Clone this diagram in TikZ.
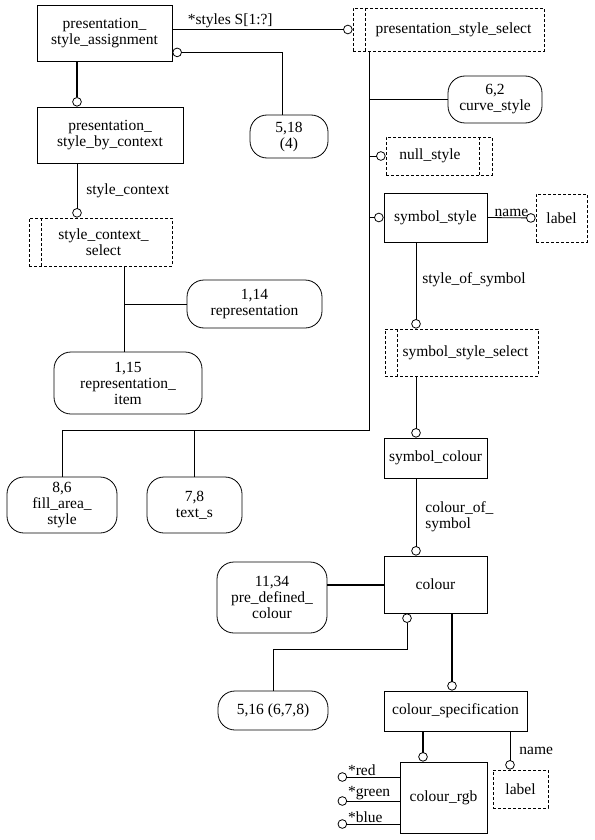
\documentclass[tikz,border=0pt]{standalone}
\usepackage{fontspec}
\setmainfont{Liberation Serif}
\usetikzlibrary{arrows.meta}

\newcommand{\xgfont}{\fontsize{15.5}{16}\selectfont}

\tikzset{
  box/.style 2 args={minimum width=#1pt, minimum height=#2pt, inner sep=1pt, align=center},
  entity/.style={draw},
  pageref/.style={draw, rounded corners=17pt},
  deftype/.style={draw, dash pattern=on 3pt off 2pt},
  selecttype/.style={deftype, path picture={
      \draw[dash pattern=on 3pt off 2pt] ([xshift=12pt]path picture bounding box.north west)
        -- ([xshift=12pt]path picture bounding box.south west);}},
  enumtype/.style={deftype, path picture={
      \draw[dash pattern=on 3pt off 2pt] ([xshift=-13pt]path picture bounding box.north east)
        -- ([xshift=-13pt]path picture bounding box.south east);}},
  ring/.style={-{Circle[open, length=9.5pt, line width=0.8pt]}},
  ringstart/.style={{Circle[open, length=9.5pt, line width=0.8pt]}-},
  heavy/.style={line width=2pt},
  rolename/.style={inner sep=1pt, align=left}
}

\begin{document}
\begin{tikzpicture}[x=1pt, y=-1pt, font=\xgfont, line width=0.8pt]
\useasboundingbox (0,0) rectangle (594,840);

% left column
\node[entity, box={135}{56}] (psa) at (104.5,33) {presentation\_\\style\_assignment};
\node[entity, box={146}{56}] (psbc) at (110,135) {presentation\_\\style\_by\_context};
\node[selecttype, box={143}{48}] (scs) at (100.5,242) {\hspace*{6pt}style\_context\_\\\hspace*{6pt}select};
\node[pageref, box={135}{48}] (ref114) at (254.5,304) {1,14\\representation};
\node[pageref, box={148}{62}] (ref115) at (128,383) {1,15\\representation\_\\item};
\node[pageref, box={78}{43}] (ref518) at (289,136.5) {5,18\\(4)};
\node[pageref, box={110}{56}] (fas) at (62,505) {8,6\\fill\_area\_\\style};
\node[pageref, box={95}{56}] (txt) at (194.5,505) {7,8\\text\_s};

% right column
\node[selecttype, box={191}{43}] (pss) at (448.5,29.5) {\hspace*{10pt}presentation\_style\_select};
\node[pageref, box={94}{47}] (curve) at (495,99.5) {6,2\\curve\_style};
\node[enumtype, box={106}{38}] (null) at (439,156) {null\_style\hspace*{18pt}};
\node[entity, box={103}{49}] (sym) at (435.5,217.5) {symbol\_style};
\node[deftype, box={51}{48}] (lbl1) at (561.5,218) {label};
\node[selecttype, box={153}{47}] (sss) at (461.5,352.5) {\hspace*{8pt}symbol\_style\_select};
\node[entity, box={103}{40}] (symcol) at (435.5,458) {symbol\_colour};
\node[entity, box={103}{57}] (col) at (435.5,584.5) {colour};
\node[pageref, box={110}{71}] (pdc) at (272,597.5) {11,34\\pre\_defined\_\\colour};
\node[pageref, box={110}{39}] (ref516) at (273,710.5) {5,16 (6,7,8)};
\node[entity, box={143}{40}] (cs) at (455.5,711) {colour\_specification};
\node[entity, box={87}{71}] (rgb) at (443.5,797.5) {colour\_rgb};
\node[deftype, box={55}{38}] (lbl2) at (520.5,789) {label};

\coordinate (bus) at (369,430);

% relations
\draw[ring] (psa.east |- pss.west) -- node[pos=0, above right, xshift=14pt, rolename] {*styles S[1:?]} (pss.west);
\draw[ringstart] ([yshift=9pt]psa.south east) -| ([xshift=-7pt]ref518.north);
\draw[heavy, ring] (psa.south -| 77,0) -- (psbc.north -| 77,0);
\draw[ring] (psbc.south -| 77,0) -- node[right, xshift=8pt, rolename] {style\_context} (scs.north -| 77,0);
\draw (scs.south -| 124,0) -- (ref115.north -| 124,0);
\draw (ref114.west) -- (ref114.west -| 124,0);

\draw (pss.south -| bus) -- (bus) -| (fas.north);
\draw (txt.north) -- (txt.north |- bus);
\draw (curve.west) -- (curve.west -| bus);
\draw[ring] (null.west -| bus) -- (null.west);
\draw[ring] (sym.west -| bus) -- (sym.west);
\draw[ring] (sym.east) -- node[above, rolename] {name} (lbl1.west);
\draw[ring] (sym.south -| 416,0) -- node[pos=0.43, right, xshift=5pt, rolename] {style\_of\_symbol} (sss.north -| 416,0);
\draw[ring] (sss.south -| 416,0) -- (symcol.north -| 416,0);
\draw[ring] (symcol.south -| 416,0) -- node[right, xshift=8pt, rolename] {colour\_of\_\\symbol} (col.north -| 416,0);
\draw[heavy] (col.west) -- (col.west -| pdc.east);
\draw[ringstart] (col.south -| 407,0) -- ++(0,36) -| (ref516.north);
\draw[heavy, ring] (col.south -| 452,0) -- (cs.north -| 452,0);
\draw[heavy, ring] (cs.south -| 423,0) -- (rgb.north -| 423,0);
\draw[ring] (cs.south -| 510,0) -- node[right, xshift=8pt, rolename] {name} (lbl2.north -| 510,0);
\foreach \y/\att in {777/red, 801/green, 824/blue}
  \draw[ring] (rgb.west |- 0,\y) -- ++(-62,0) node[above right, xshift=9pt, rolename] {*\att};
\end{tikzpicture}
\end{document}
